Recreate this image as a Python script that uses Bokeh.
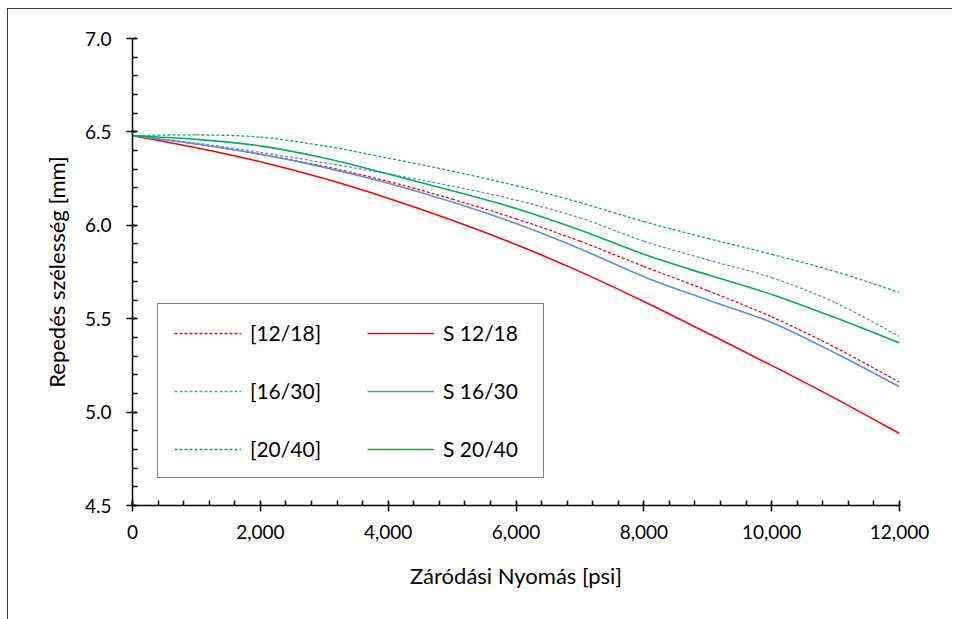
from bokeh.plotting import figure
from bokeh.models import (Range1d, SingleIntervalTicker, NumeralTickFormatter,
                          Legend, LegendItem)
from bokeh.embed import file_html
from bokeh.resources import INLINE

# ---- data ----
pressure = [0, 1000, 2000, 3000, 4000, 5000, 6000, 7000, 8000, 9000, 10000, 11000, 12000]

w_1218 = [6.48, 6.435, 6.38, 6.315, 6.235, 6.14, 6.035, 5.915, 5.78, 5.65, 5.51, 5.345, 5.16]
w_s1218 = [6.48, 6.415, 6.34, 6.25, 6.145, 6.027, 5.897, 5.752, 5.592, 5.422, 5.25, 5.072, 4.885]
w_1630 = [6.48, 6.44, 6.39, 6.335, 6.275, 6.21, 6.135, 6.04, 5.915, 5.815, 5.72, 5.585, 5.405]
w_s1630 = [6.48, 6.435, 6.38, 6.31, 6.225, 6.125, 6.01, 5.875, 5.725, 5.60, 5.48, 5.315, 5.136]
w_2040 = [6.48, 6.484, 6.472, 6.425, 6.36, 6.29, 6.212, 6.122, 6.02, 5.93, 5.845, 5.752, 5.64]
w_s2040 = [6.48, 6.46, 6.425, 6.36, 6.275, 6.185, 6.09, 5.975, 5.845, 5.735, 5.63, 5.505, 5.371]

labels = ["[12/18]", "[16/30]", "[20/40]", "S 12/18", "S 16/30", "S 20/40"]
series = [w_1218, w_1630, w_2040, w_s1218, w_s1630, w_s2040]
colors = ["#FF0000", "#5A8FDC", "#00B050", "#FF0000", "#5A8FDC", "#00B050"]
dashed = [True, True, True, False, False, False]

FONT = "Lato"


def smooth_segments(xs, ys):
    """Cubic Bezier segments through the data points (spreadsheet-style smoothing)."""
    n = len(xs)
    x0, y0, x1, y1, cx0, cy0, cx1, cy1 = [], [], [], [], [], [], [], []
    for i in range(n - 1):
        ip = max(i - 1, 0)
        inx = min(i + 2, n - 1)
        x0.append(xs[i]); y0.append(ys[i])
        x1.append(xs[i + 1]); y1.append(ys[i + 1])
        cx0.append(xs[i] + (xs[i + 1] - xs[ip]) / 6.0)
        cy0.append(ys[i] + (ys[i + 1] - ys[ip]) / 6.0)
        cx1.append(xs[i + 1] - (xs[inx] - xs[i]) / 6.0)
        cy1.append(ys[i + 1] - (ys[inx] - ys[i]) / 6.0)
    return dict(x0=x0, y0=y0, x1=x1, y1=y1, cx0=cx0, cy0=cy0, cx1=cx1, cy1=cy1)


p = figure(width=945, height=611, output_backend="svg", toolbar_location=None,
           x_range=Range1d(0, 12000), y_range=Range1d(4.5, 7.0),
           min_border_left=125, min_border_right=53, min_border_top=30,
           min_border_bottom=114)
p.styles = {"outline": "1px solid #000000", "outline-offset": "-1px",
            "margin-left": "7px", "margin-top": "8px"}
p.outline_line_color = None
p.xgrid.visible = False
p.ygrid.visible = False
p.background_fill_color = "white"
p.border_fill_color = "white"

renderers = []
for ys, c, d in zip(series, colors, dashed):
    seg = smooth_segments(pressure, ys)
    r = p.bezier(x0="x0", y0="y0", x1="x1", y1="y1", cx0="cx0", cy0="cy0",
                 cx1="cx1", cy1="cy1", source=seg, line_color=c,
                 line_width=1.3 if d else 1.6,
                 line_dash="3 2" if d else "solid")
    renderers.append(r)

# axes
p.xaxis.ticker = SingleIntervalTicker(interval=2000, num_minor_ticks=5)
p.yaxis.ticker = SingleIntervalTicker(interval=0.5, num_minor_ticks=5)
p.xaxis.formatter = NumeralTickFormatter(format="0,0")
p.yaxis.formatter = NumeralTickFormatter(format="0.0")
p.xaxis.axis_label = "Záródási Nyomás [psi]"
p.yaxis.axis_label = "Repedés szélesség [mm]"
for ax in (p.xaxis[0], p.yaxis[0]):
    ax.axis_line_color = "black"
    ax.axis_line_width = 1.5
    ax.major_tick_line_color = "black"
    ax.major_tick_line_width = 1.5
    ax.minor_tick_line_color = "black"
    ax.minor_tick_line_width = 1.5
    ax.major_tick_in = 4
    ax.major_tick_out = 6
    ax.minor_tick_in = 5
    ax.minor_tick_out = 0
    ax.major_label_text_font = FONT
    ax.major_label_text_font_size = "19px"
    ax.major_label_text_color = "black"
    ax.axis_label_text_font = FONT
    ax.axis_label_text_font_size = "22px"
    ax.axis_label_text_font_style = "normal"
    ax.axis_label_text_color = "black"
p.xaxis.major_label_standoff = 13
p.yaxis.major_label_standoff = 15
p.xaxis.axis_label_standoff = 20
p.yaxis.axis_label_standoff = 12

items = [LegendItem(label=l, renderers=[r]) for l, r in zip(labels, renderers)]
legend = Legend(items=items, location=(25, 27), ncols=2, orientation="vertical",
                border_line_color="black", border_line_width=1.5,
                background_fill_color="white", background_fill_alpha=1.0,
                label_text_font=FONT, label_text_font_size="21px",
                label_text_color="black",
                glyph_width=67, glyph_height=20, label_height=20, label_standoff=9,
                spacing=33, padding=16, label_width=84, margin=0)
p.add_layout(legend)

open("out.html", "w").write(file_html(p, INLINE))
